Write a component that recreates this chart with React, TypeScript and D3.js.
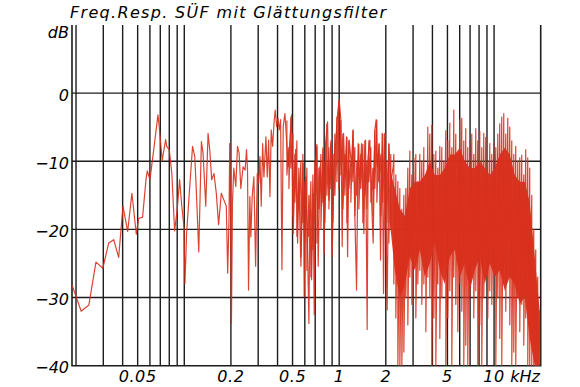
import React, { useRef, useEffect } from 'react';
import * as d3 from 'd3';

// frequency response: [kHz, dB]
const lowCurve: [number, number][] = [
  [0.0188, -28.1], [0.0216, -32.0], [0.0242, -31.1], [0.0269, -24.8], [0.0298, -25.7],
  [0.0325, -22.0], [0.0350, -21.5], [0.0377, -24.1], [0.0402, -16.6], [0.0431, -20.3],
  [0.0459, -14.7], [0.0490, -20.7], [0.0507, -18.4], [0.0538, -18.2], [0.0566, -12.7],
  [0.0577, -11.4], [0.0600, -12.7], [0.0635, -8.3], [0.0676, -3.2], [0.0689, -4.9],
  [0.0720, -9.9], [0.0758, -6.8], [0.0770, -7.8], [0.0800, -8.3], [0.0831, -11.8],
  [0.0866, -20.2], [0.0900, -17.1], [0.0933, -12.7], [0.0964, -16.6], [0.0995, -19.6],
  [0.1010, -27.9], [0.1035, -20.6], [0.1077, -14.7], [0.1131, -7.8], [0.1169, -9.3],
  [0.1198, -14.7], [0.1240, -23.3], [0.1290, -7.1], [0.1322, -8.8], [0.1376, -16.6],
  [0.1424, -5.9], [0.1460, -8.3], [0.1503, -12.7], [0.1555, -11.8], [0.1610, -14.7],
  [0.1665, -19.3], [0.1734, -14.7], [0.1803, -15.7], [0.1868, -16.6], [0.1906, -26.4],
  [0.1944, -18.6], [0.1965, -7.4], [0.1995, -20.1], [0.2016, -33.8], [0.2046, -16.2],
  [0.2087, -11.0], [0.2150, -13.7], [0.2206, -7.8], [0.2259, -8.8], [0.2317, -14.0],
  [0.2397, -10.8], [0.2470, -11.3], [0.2522, -8.3], [0.2560, -11.3], [0.2599, -28.9],
  [0.2650, -15.2], [0.2690, -21.1], [0.2743, -15.2], [0.2814, -12.3], [0.2887, -25.4],
  [0.2959, -11.8], [0.3022, -13.2], [0.3079, -9.3], [0.3139, -16.6], [0.3205, -7.4],
  [0.3267, -12.3], [0.3366, -6.4], [0.3432, -12.3], [0.3504, -6.9], [0.3573, -15.2],
  [0.3642, -5.4], [0.3719, -7.8], [0.3807, -3.9], [0.3865, -2.5], [0.3946, -4.9],
  [0.4024, -3.7], [0.4101, -5.4], [0.4187, -3.9], [0.4270, -25.9], [0.4352, -4.9],
];

const midCurve: [number, number][] = [
  [0.4464, -3.0], [0.4688, -10.8], [0.4930, -3.2], [0.5048, -20.6], [0.5231, -8.3],
  [0.5389, -22.0], [0.5495, -13.2], [0.5660, -25.4], [0.5857, -10.3], [0.5945, -29.9],
  [0.6070, -12.3], [0.6253, -23.0], [0.6375, -33.8], [0.6471, -17.1], [0.6636, -27.4],
  [0.6797, -14.7], [0.6899, -32.5], [0.7043, -10.8], [0.7180, -7.8], [0.7320, -25.4],
  [0.7508, -10.8], [0.7700, -16.6], [0.7885, -8.3], [0.8003, -23.5], [0.8170, -7.4],
  [0.8417, -4.2], [0.8581, -15.7], [0.8840, -7.4], [0.9012, -24.0], [0.9284, -9.3],
  [0.9521, -6.9], [0.9765, -3.0], [1.000, -1.0], [1.0256, -3.9], [1.0456, -22.5],
  [1.0675, -5.9], [1.0884, -12.3], [1.1161, -6.4], [1.1330, -24.0], [1.1602, -6.9],
  [1.2023, -10.8], [1.2312, -5.4], [1.2627, -18.1], [1.2948, -28.9], [1.3259, -7.4],
  [1.3596, -13.2], [1.3945, -7.4], [1.4431, -20.6], [1.4800, -6.9], [1.5157, -34.7],
  [1.5385, -9.3], [1.5779, -6.9], [1.6181, -15.7], [1.6573, -22.0], [1.6994, -5.4],
  [1.7326, -3.9], [1.7689, -10.8], [1.8117, -7.4], [1.8497, -24.5], [1.8941, -5.9],
  [1.9342, -29.4], [1.9717, -5.9], [2.0404, -31.8], [2.0922, -7.4], [2.1553, -13.2],
  [2.2305, -10.8],
];

// 0.45 - 2.2 kHz: peak and dip per step
const midKHz = [
  0.4597, 0.4736, 0.4879, 0.5026, 0.5178, 0.5334, 0.5495, 0.5660, 0.5831, 0.6007,
  0.6188, 0.6376, 0.6568, 0.6766, 0.6970, 0.7180, 0.7397, 0.7620, 0.7850, 0.8087,
  0.8331, 0.8582, 0.8840, 0.9107, 0.9381, 0.9664, 0.9956, 1.0256, 1.0566, 1.0884,
  1.1212, 1.1549, 1.1897, 1.2257, 1.2627, 1.3008, 1.3395, 1.3800, 1.4216, 1.4648,
  1.5090, 1.5546, 1.6015, 1.6499, 1.6994, 1.7507, 1.8036, 1.8580, 1.9141, 1.9717,
  2.0312, 2.0924, 2.1555,
];
const midTop = [
  -4, -8, -3.5, -6, -9, -7, -11, -10, -9, -13,
  -11, -15, -13, -12, -10, -7.5, -11, -9, -8, -10,
  -4.5, -8, -7, -9, -6, -3.5, -1.2, -4, -6, -9,
  -6.5, -7, -10, -5.5, -8, -10, -7.5, -9, -7.5, -7,
  -10, -7, -8, -11, -5.5, -4, -7.5, -9, -6, -6,
  -10, -7.5, -9,
];
const midBottom = [
  -12, -14, -11, -18, -16, -21, -17, -24, -19, -22,
  -26, -21, -27, -23, -19, -22, -17, -20, -16, -19,
  -15, -17, -14, -19, -15, -13, -14, -12, -17, -15,
  -19, -14, -16, -13, -18, -15, -17, -14, -19, -15,
  -17, -13, -16, -18, -14, -16, -13, -18, -16, -20,
  -19, -22, -20,
];

// solid core above 2 kHz (upper / lower edge)
const bandKHz = [
  2.1237, 2.2877, 2.4640, 2.6543, 2.8587, 3.0791, 3.3164, 3.5727, 3.8475,
  4.1440, 4.4637, 4.8072, 5.1781, 5.5778, 6.0064, 6.4714, 6.9695, 7.5077, 8.0856,
  8.7096, 9.3826, 10.104, 10.884, 11.722, 12.627, 13.596, 14.648, 15.779, 16.994,
  18.306, 19.717,
];
const bandTop = [
  -11, -14, -17, -18, -14, -13, -13, -12, -10,
  -12, -12, -11, -9, -9, -8, -10, -11, -11, -10,
  -11, -12, -11, -9, -8, -9, -12, -13, -13, -16,
  -24, -32,
];
const bandBottom = [
  -19, -26, -30, -28, -24, -26, -23, -27, -25,
  -22, -26, -28, -24, -23, -27, -25, -29, -26, -24,
  -28, -25, -27, -26, -29, -27, -28, -31, -30, -36,
  -40, -40,
];

// above 2.2 kHz: peak and dip per step
const denseKHz = [
  2.254, 2.322, 2.392, 2.464, 2.538, 2.615, 2.694, 2.775, 2.859, 2.945,
  3.034, 3.125, 3.220, 3.316, 3.416, 3.520, 3.626, 3.735, 3.848, 3.964,
  4.083, 4.206, 4.333, 4.464, 4.598, 4.737, 4.880, 5.027, 5.178, 5.334,
  5.495, 5.661, 5.832, 6.006, 6.188, 6.374, 6.566, 6.764, 6.970, 7.180,
  7.396, 7.619, 7.849, 8.086, 8.329, 8.581, 8.839, 9.106, 9.383, 9.666,
  9.957, 10.26, 10.57, 10.88, 11.21, 11.55, 11.90, 12.26, 12.63, 13.01,
  13.40, 13.80, 14.22, 14.65, 15.09, 15.55, 16.01, 16.50, 16.99, 17.51,
  18.04, 18.58, 19.14, 19.72,
];
const denseTop = [
  -9, -12, -13, -14, -17, -15, -14, -11, -8.5, -12,
  -9.5, -9, -13, -9, -10, -8, -12, -5, -6, -4.7,
  -9, -8.5, -11, -7.8, -8, -10, -5.5, -7, -4.4, -8,
  -2.5, -6, -9, -4, -3.7, -7, -5.2, -8, -7, -6,
  -9, -5.2, -7, -5.6, -8, -5.9, -6.5, -10, -7.4, -9,
  -7.4, -8, -6, -4.5, -3.5, -3, -6, -3.7, -5, -7,
  -9, -7.8, -10, -9.5, -9.1, -12, -8.3, -9.5, -11, -15,
  -20, -23, -27, -32,
];
const denseBottom = [
  -28, -33, -40, -40, -40, -38, -30, -34, -27, -31,
  -25, -33, -28, -26, -31, -28, -35, -27, -30, -40,
  -33, -40, -28, -36, -30, -26, -40, -33, -29, -40,
  -27, -31, -35, -28, -32, -40, -37, -40, -30, -27,
  -33, -29, -40, -34, -40, -30, -27, -33, -29, -31,
  -26, -40, -30, -36, -40, -28, -32, -27, -34, -40,
  -38, -40, -30, -35, -31, -37, -33, -40, -40, -40,
  -40, -40, -40, -40,
];

const gridKHz = [
  0.02, 0.03, 0.04, 0.05, 0.06, 0.07, 0.08, 0.09,
  0.1, 0.2, 0.3, 0.4, 0.5, 0.6, 0.7, 0.8, 0.9,
  1, 2, 3, 4, 5, 6, 7, 8, 9, 10,
];
const gridDb = [0, -10, -20, -30];
const dbTicks = [0, -10, -20, -30, -40];
const freqTicks = [0.05, 0.2, 0.5, 1, 2, 5, 10];
const freqLabels = ['0.05', '0.2', '0.5', '1', '2', '5', '10'];

const App = () => {
  const svgRef = useRef<SVGSVGElement>(null);

  useEffect(() => {
    const width = 580;
    const height = 387;
    const left = 72, right = 540.7, top = 25, bottom = 365.7;
    const x = d3.scaleLog().domain([0.01884, 20]).range([left, right]);
    const y = d3.scaleLinear().domain([-40, 10]).range([bottom, top]);
    const red = '#d8301c';
    const font = '"DejaVu Sans", sans-serif';

    const svg = d3.select(svgRef.current);
    svg.selectAll('*').remove();
    svg.attr('width', width).attr('height', height);

    svg.append('rect').attr('width', width).attr('height', height).attr('fill', '#fff');

    svg.append('clipPath').attr('id', 'plot-clip')
      .append('rect').attr('x', left).attr('y', top)
      .attr('width', right - left).attr('height', bottom - top);

    // grid
    svg.append('g').attr('stroke', '#1c1c1c').attr('stroke-width', 1.4)
      .selectAll('line').data(gridKHz).join('line')
      .attr('x1', d => x(d)).attr('x2', d => x(d))
      .attr('y1', top).attr('y2', bottom);
    svg.append('g').attr('stroke', '#1c1c1c').attr('stroke-width', 1.4)
      .selectAll('line').data(gridDb).join('line')
      .attr('x1', left).attr('x2', right)
      .attr('y1', d => y(d)).attr('y2', d => y(d));

    // frame: left, right, bottom
    svg.append('path')
      .attr('d', `M${left},${top}V${bottom}H${right}V${top}`)
      .attr('fill', 'none').attr('stroke', '#1c1c1c').attr('stroke-width', 1.6);

    const plot = svg.append('g').attr('clip-path', 'url(#plot-clip)');

    const area = d3.area<number>()
      .x((_, i) => x(bandKHz[i]))
      .y0((_, i) => y(bandBottom[i]))
      .y1((_, i) => y(bandTop[i]));
    plot.append('path')
      .datum(bandKHz)
      .attr('d', area)
      .attr('fill', red)
      .attr('fill-opacity', 0.95);

    const line = d3.line<[number, number]>()
      .x(d => x(d[0]))
      .y(d => y(d[1]));

    const strokes = (freqs: number[], hi: number[], lo: number[]) => {
      const out: [number, number][] = [];
      freqs.forEach((f, i) => out.push([f, hi[i]], [f, lo[i]]));
      return out;
    };

    const mainPts: [number, number][] = [
      ...lowCurve, ...midCurve, ...strokes(denseKHz, denseTop, denseBottom),
    ];

    plot.selectAll('path.curve')
      .data([strokes(midKHz, midTop, midBottom), mainPts])
      .join('path')
      .attr('class', 'curve')
      .attr('d', line)
      .attr('fill', 'none')
      .attr('stroke', red)
      .attr('stroke-width', 1.2)
      .attr('stroke-opacity', 0.9)
      .attr('stroke-linejoin', 'round');

    // labels
    const text = svg.append('g')
      .attr('font-family', font)
      .attr('font-style', 'italic')
      .attr('fill', '#000');

    text.append('text')
      .attr('x', 70).attr('y', 18)
      .attr('font-size', 16)
      .attr('textLength', 316)
      .text('Freq.Resp. SÜF mit Glättungsfilter');

    text.append('text')
      .attr('x', 69).attr('y', 38)
      .attr('font-size', 16)
      .attr('text-anchor', 'end')
      .text('dB');

    text.selectAll('text.db').data(dbTicks).join('text')
      .attr('class', 'db')
      .attr('x', 69).attr('y', d => y(d) + 7.5)
      .attr('font-size', 16)
      .attr('text-anchor', 'end')
      .text(d => (d === 0 ? '0' : '\u2212' + Math.abs(d)));

    text.selectAll('text.fq').data(freqTicks).join('text')
      .attr('class', 'fq')
      .attr('x', d => x(d)).attr('y', 382)
      .attr('font-size', 16)
      .attr('letter-spacing', 0.6)
      .attr('text-anchor', 'middle')
      .text((_, i) => freqLabels[i]);

    text.append('text')
      .attr('x', 540).attr('y', 382)
      .attr('font-size', 16)
      .attr('text-anchor', 'end')
      .text('kHz');
  }, []);

  return (
    <svg ref={svgRef} style={{ position: 'absolute', left: 0, top: 0, display: 'block' }}></svg>
  );
};

export default App;
